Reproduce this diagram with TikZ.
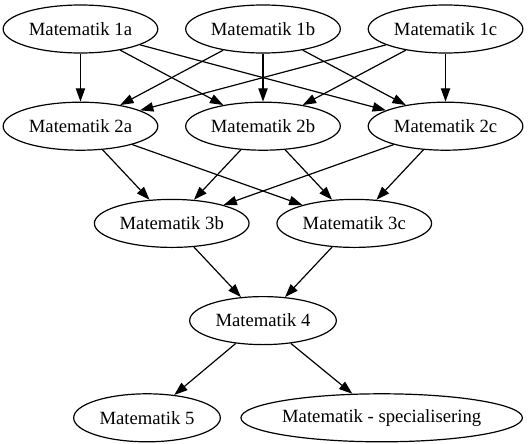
\documentclass[tikz,border=0pt]{standalone}
\usepackage{fontspec}
\setmainfont{Liberation Serif}
\usepackage{tikz}
\usetikzlibrary{arrows.meta, positioning, calc, shapes.geometric}
\tikzset{
  fag/.style={ellipse, draw, line width=0.9pt, inner sep=0pt,
    minimum width=116pt, minimum height=36pt, font=\fontsize{14}{16}\selectfont},
  pil/.style={-{Triangle[length=10pt, width=7pt]}, line width=0.9pt}
}

\begin{document}
\begin{tikzpicture}[node distance=36pt and 20pt]
  \useasboundingbox (-197.25pt,21.75pt) rectangle (198.75pt,-310.5pt);
  \node[fag] (m1b) {Matematik 1b};
  \node[fag, left=of m1b] (m1a) {Matematik 1a};
  \node[fag, right=of m1b] (m1c) {Matematik 1c};
  \node[fag, below=of m1a] (m2a) {Matematik 2a};
  \node[fag, below=of m1b] (m2b) {Matematik 2b};
  \node[fag, below=of m1c] (m2c) {Matematik 2c};
  \coordinate (h3) at ($(m2a.south)!.5!(m2b.south)$);
  \node[fag, below=of h3] (m3b) {Matematik 3b};
  \node[fag, right=of m3b] (m3c) {Matematik 3c};
  \coordinate (h4) at ($(m3b.south)!.5!(m3c.south)$);
  \node[fag, below=of h4, minimum width=110pt] (m4) {Matematik 4};
  \node[fag, below=of m4, xshift=-87pt, minimum width=110pt] (m5) {Matematik 5};
  \node[fag, below=of m4, xshift=89pt] (spes) {Matematik - specialisering};
  \draw[pil] (m1a) -- (m2a);
  \draw[pil] (m1a) -- (m2b);
  \draw[pil] (m1a) -- (m2c);
  \draw[pil] (m1b) -- (m2a);
  \draw[pil] (m1b) -- (m2b);
  \draw[pil] (m1b) -- (m2c);
  \draw[pil] (m1c) -- (m2a);
  \draw[pil] (m1c) -- (m2b);
  \draw[pil] (m1c) -- (m2c);
  \draw[pil] (m2a) -- (m3b);
  \draw[pil] (m2a) -- (m3c);
  \draw[pil] (m2b) -- (m3b);
  \draw[pil] (m2b) -- (m3c);
  \draw[pil] (m2c) -- (m3b);
  \draw[pil] (m2c) -- (m3c);
  \draw[pil] (m3b) -- (m4);
  \draw[pil] (m3c) -- (m4);
  \draw[pil] (m4) -- (m5);
  \draw[pil] (m4) -- (spes);
\end{tikzpicture}
\end{document}
